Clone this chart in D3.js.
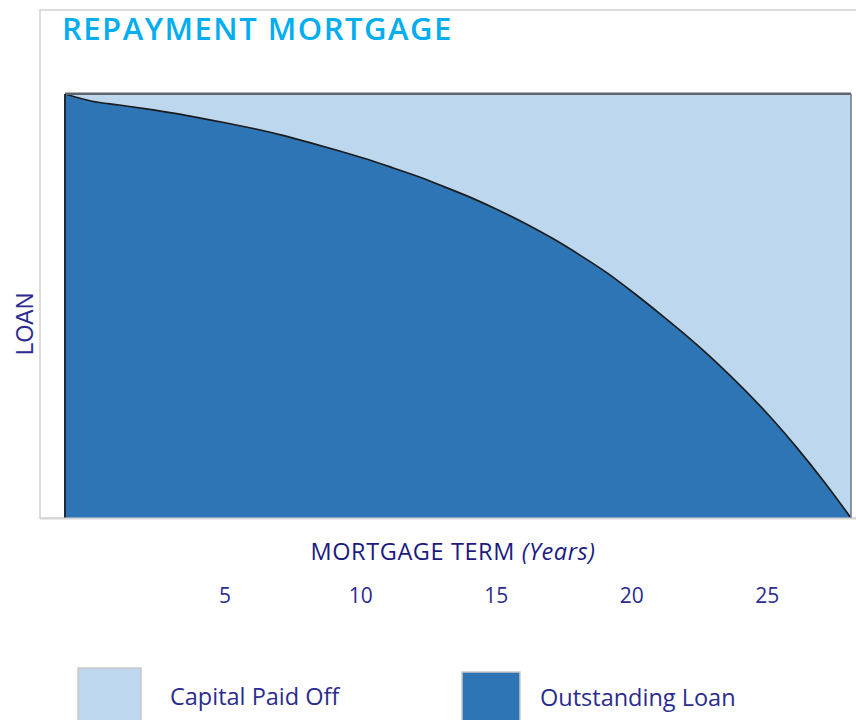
<!DOCTYPE html>
<html>
<head>
<meta charset="utf-8">
<script src="https://cdn.jsdelivr.net/npm/d3@7"></script>
<style>
  body { margin: 0; background: #fff; }
  svg { display: block; }
</style>
</head>
<body>
<div id="chart"></div>
<script>
// years since start and share of loan still outstanding (1 = full loan)
const years = [0, 1, 2, 3, 4, 5, 6, 7, 8, 9, 10, 11, 12, 13, 14, 15, 16, 17, 18, 19, 20, 21, 22, 23, 24, 25, 26, 27, 28, 29];
const outstanding = [1.000, 0.983, 0.974, 0.965, 0.955, 0.943, 0.931, 0.918, 0.903, 0.886,
                     0.868, 0.849, 0.828, 0.806, 0.781, 0.755, 0.726, 0.694, 0.659, 0.620,
                     0.578, 0.530, 0.479, 0.426, 0.369, 0.307, 0.240, 0.166, 0.086, 0.000];
const tickYears = [5, 10, 15, 20, 25];
const legendLabels = ["Capital Paid Off", "Outstanding Loan"];

const lightBlue = "#bdd7ee";
const darkBlue = "#2e75b6";
const navy = "#2b2c8f";

const W = 856, H = 720;
const plot = { left: 65, right: 851, top: 94, bottom: 518 };

const svg = d3.select("#chart").append("svg")
    .attr("width", W)
    .attr("height", H);

// outer frame
svg.append("rect")
    .attr("x", 40)
    .attr("y", 10)
    .attr("width", 830)
    .attr("height", 508)
    .attr("fill", "none")
    .attr("stroke", "#dcdcdc")
    .attr("stroke-width", 2);

// title
svg.append("text")
    .attr("x", 62)
    .attr("y", 40)
    .attr("fill", "#00aeef")
    .style("font-family", "'Open Sans', sans-serif")
    .style("font-weight", 600)
    .style("font-size", "31px")
    .style("letter-spacing", "1.5px")
    .text("REPAYMENT MORTGAGE");

const xScale = d3.scaleLinear()
    .domain([0, 29])
    .range([plot.left, plot.right]);

const yScale = d3.scaleLinear()
    .domain([0, 1])
    .range([plot.bottom, plot.top]);

const data = years.map((yr, i) => ({ year: yr, value: outstanding[i] }));

const paidArea = d3.area()
    .x(d => xScale(d.year))
    .y0(d => yScale(d.value))
    .y1(yScale(1))
    .curve(d3.curveMonotoneX);

const loanArea = d3.area()
    .x(d => xScale(d.year))
    .y0(yScale(0))
    .y1(d => yScale(d.value))
    .curve(d3.curveMonotoneX);

const loanLine = d3.line()
    .x(d => xScale(d.year))
    .y(d => yScale(d.value))
    .curve(d3.curveMonotoneX);

svg.append("path")
    .datum(data)
    .attr("d", paidArea)
    .attr("fill", lightBlue);

svg.append("path")
    .datum(data)
    .attr("d", loanArea)
    .attr("fill", darkBlue);

svg.append("path")
    .datum(data)
    .attr("d", loanLine)
    .attr("fill", "none")
    .attr("stroke", "#1c1c1c")
    .attr("stroke-width", 1.7);

// plot edges
svg.append("line")
    .attr("x1", xScale(0)).attr("x2", xScale(29))
    .attr("y1", yScale(1) - 1.5).attr("y2", yScale(1) - 1.5)
    .attr("stroke", "#aeb4ba")
    .attr("stroke-width", 1);
svg.append("line")
    .attr("x1", xScale(0)).attr("x2", xScale(29))
    .attr("y1", yScale(1)).attr("y2", yScale(1))
    .attr("stroke", "#5f646b")
    .attr("stroke-width", 2);
svg.append("line")
    .attr("x1", xScale(0)).attr("x2", xScale(0))
    .attr("y1", yScale(1)).attr("y2", yScale(0))
    .attr("stroke", "#1e2a38")
    .attr("stroke-width", 2);
svg.append("line")
    .attr("x1", xScale(29)).attr("x2", xScale(29))
    .attr("y1", yScale(1)).attr("y2", yScale(0))
    .attr("stroke", "#6b7580")
    .attr("stroke-width", 1.5);
svg.append("line")
    .attr("x1", 40).attr("x2", W)
    .attr("y1", plot.bottom + 0.5).attr("y2", plot.bottom + 0.5)
    .attr("stroke", "#d6d6d6")
    .attr("stroke-width", 2);

// y axis title
svg.append("text")
    .attr("transform", "translate(33,324) rotate(-90)")
    .attr("text-anchor", "middle")
    .attr("fill", navy)
    .style("font-family", "'Liberation Sans', Arial, sans-serif")
    .style("font-size", "23px")
    .text("LOAN");

// x axis title
const xTitle = svg.append("text")
    .attr("x", 453)
    .attr("y", 560)
    .attr("text-anchor", "middle")
    .attr("fill", "#1c1a80")
    .style("font-family", "'Open Sans', sans-serif")
    .style("font-size", "23.5px")
    .style("letter-spacing", "0.6px");
xTitle.append("tspan").text("MORTGAGE TERM ");
xTitle.append("tspan").style("font-style", "italic").text("(Years)");

// tick labels sit one year to the right of the curve's year grid
const tickShift = xScale(1) - xScale(0);
const xAxis = d3.axisBottom(xScale)
    .tickValues(tickYears)
    .tickSize(0)
    .tickPadding(0);

const axisG = svg.append("g")
    .attr("transform", `translate(${tickShift - 3},588)`)
    .call(xAxis);
axisG.select(".domain").remove();
axisG.selectAll("text")
    .attr("fill", navy)
    .attr("dy", "0.71em")
    .style("font-family", "'Open Sans', sans-serif")
    .style("font-size", "21px");

// legend
const legendX = [78, 462];
const legendColors = [lightBlue, darkBlue];
const legend = svg.selectAll(".legend")
    .data(legendLabels)
    .enter()
    .append("g")
    .attr("class", "legend")
    .attr("transform", (d, i) => `translate(${legendX[i]},${i === 0 ? 668 : 672})`);

legend.append("rect")
    .attr("width", (d, i) => i === 0 ? 63 : 58)
    .attr("height", 60)
    .attr("fill", (d, i) => legendColors[i])
    .attr("stroke", "#c9c9c9")
    .attr("stroke-width", 1.5);

legend.append("text")
    .attr("x", (d, i) => i === 0 ? 92 : 78)
    .attr("y", (d, i) => i === 0 ? 37 : 34)
    .attr("fill", navy)
    .style("font-family", "'Open Sans', sans-serif")
    .style("font-size", "23.5px")
    .text(d => d);
</script>
</body>
</html>
